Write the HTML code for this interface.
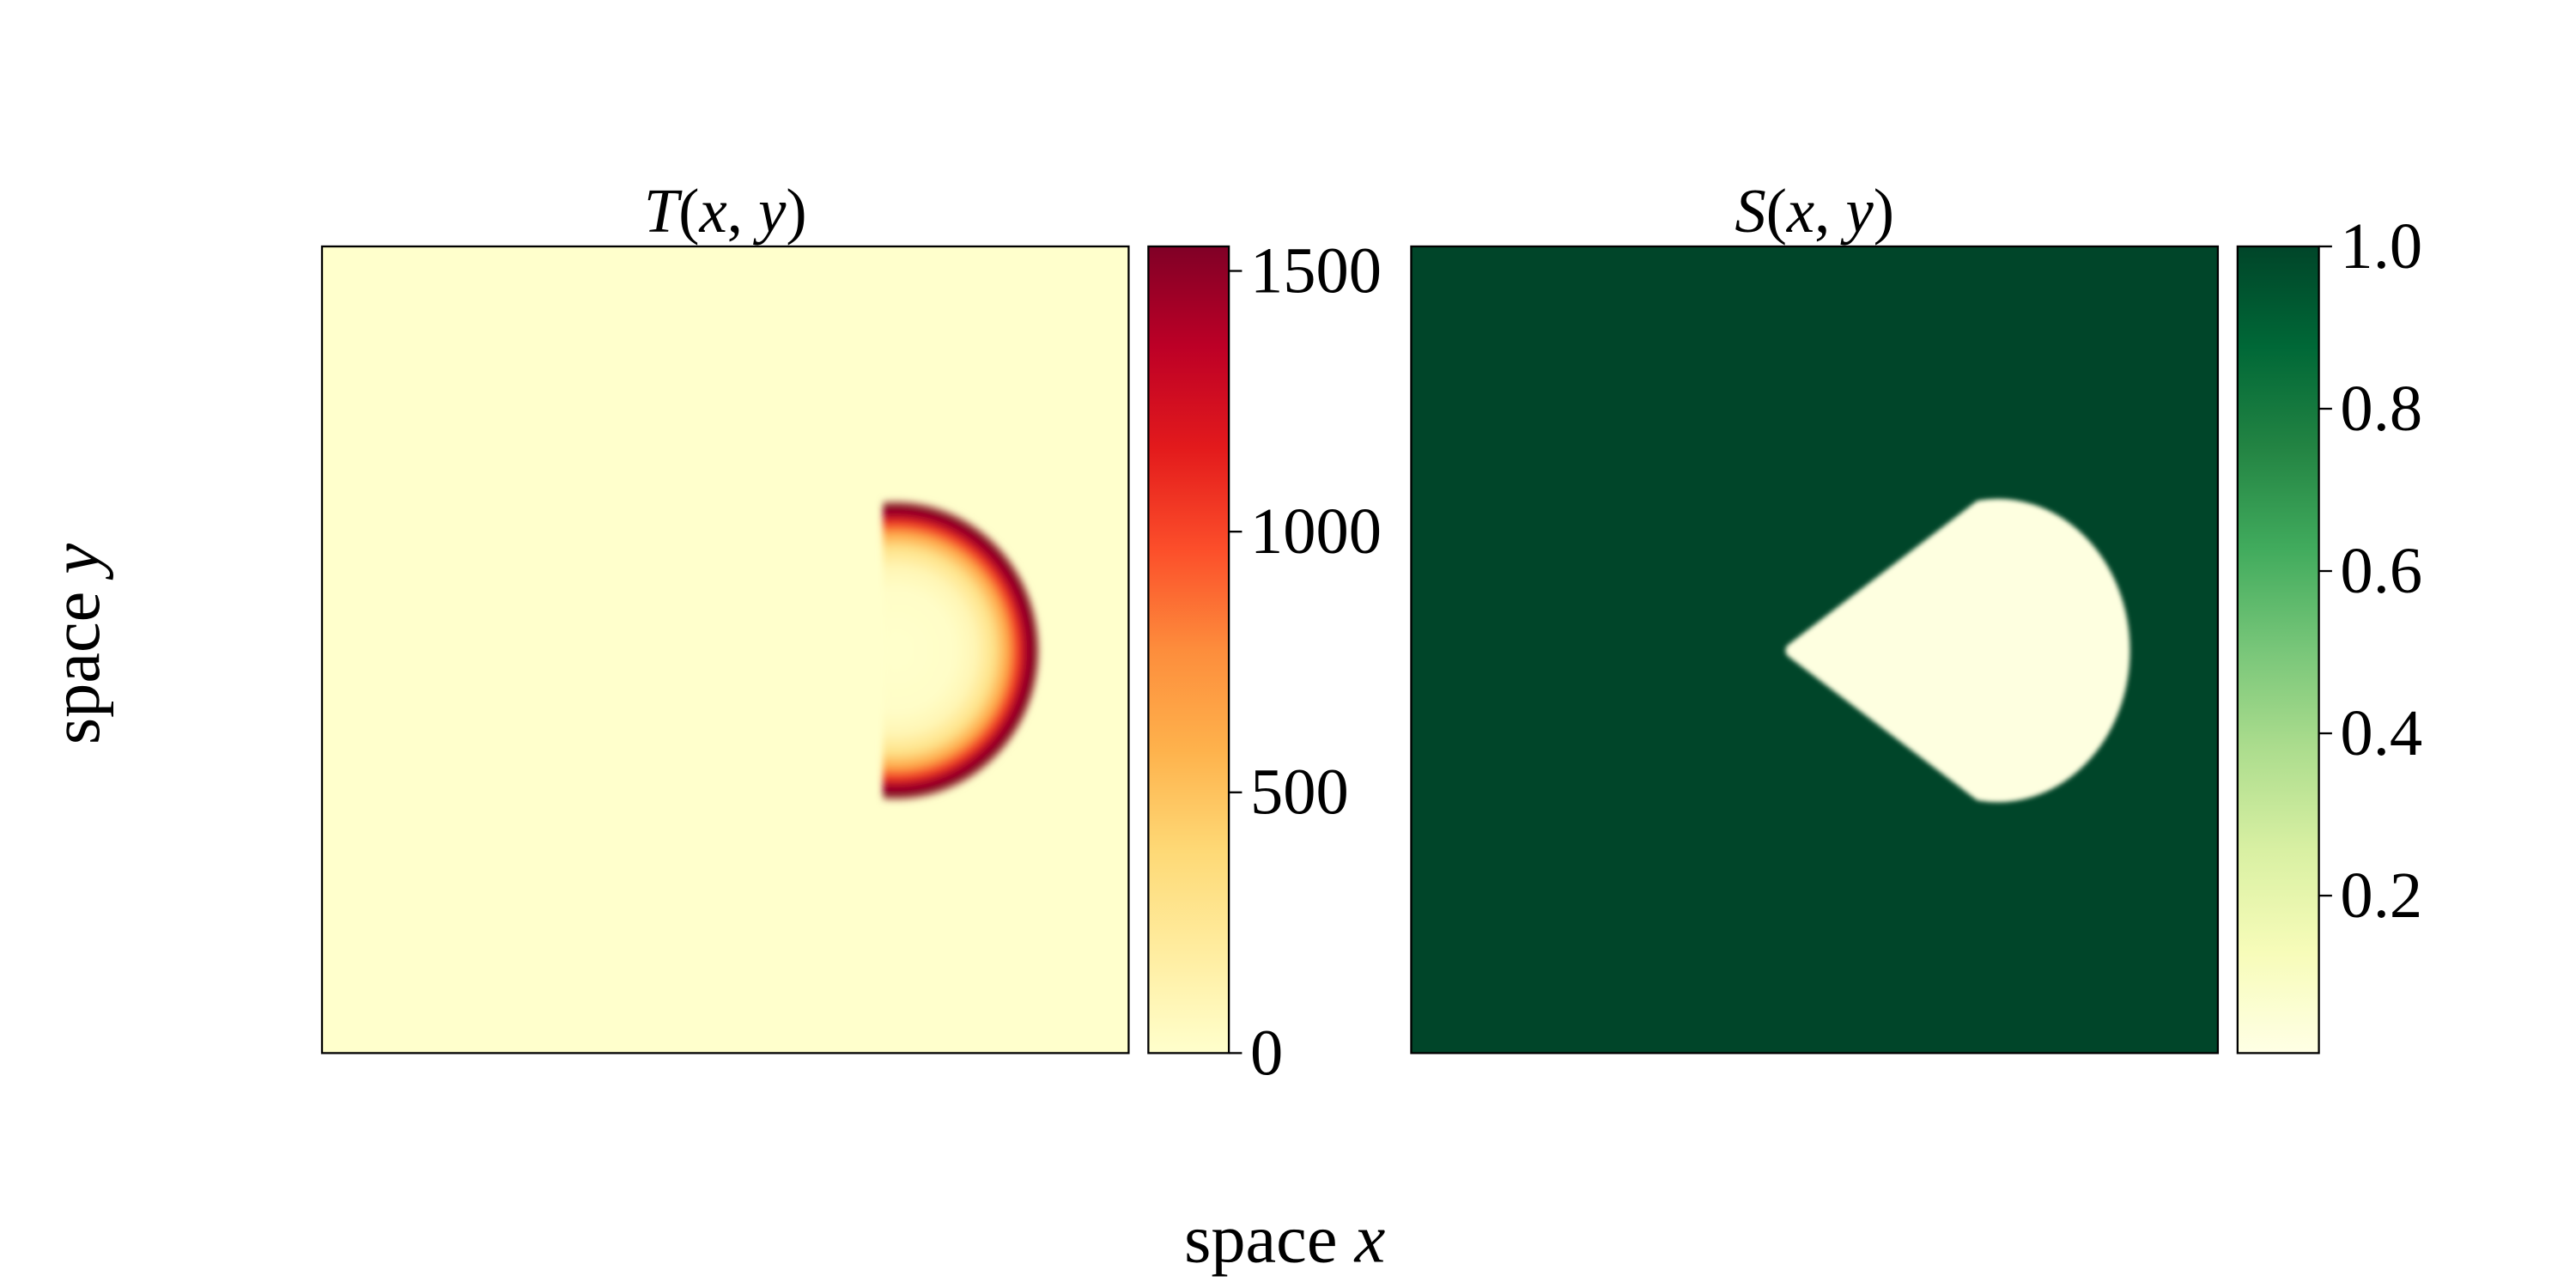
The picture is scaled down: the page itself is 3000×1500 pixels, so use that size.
<!DOCTYPE html>
<html><head><meta charset="utf-8"><style>
html,body{margin:0;padding:0;background:#fff;}
svg{display:block;}
text{font-family:"Liberation Serif","DejaVu Serif",serif;fill:#000;}
</style></head><body>
<svg id="fig" width="3000" height="1500" viewBox="0 0 1568 784" xmlns="http://www.w3.org/2000/svg">
<defs id="defs"></defs>
</svg>
<script>
const tTicks=[0,500,1000,1500];
const tTickLabels=["0","500","1000","1500"];
const tRange=[0,1547];
const sTicks=[0.2,0.4,0.6,0.8,1.0];
const sTickLabels=["0.2","0.4","0.6","0.8","1.0"];
const sRange=[0.006,1.0];
const ylorrd=["#ffffcc","#ffeda0","#fed976","#feb24c","#fd8d3c","#fc4e2a","#e31a1c","#bd0026","#800026"];
const ylgn=["#ffffe5","#f7fcb9","#d9f0a3","#addd8e","#78c679","#41ab5d","#238443","#006837","#004529"];
// temperature field
const tBackground=0;
const frontCenterT=[0.711,0.499];
const frontRadiusT=[0.179,0.186];
const frontOffsets=[0,0.4,0.55,0.68,0.78,0.85,0.9,0.95,0.985,1.0];
const frontTemps=[0,20,100,300,650,1050,1400,1540,1450,0];
// solid field
const sBackground=1.0;
const sBurned=0.02;
const burnCenter=[0.727,0.499];
const burnRadius=[0.163,0.187];
const burnTip=[0.463,0.499];
const burnCornerAngle=98;

const NS="http://www.w3.org/2000/svg";
const svg=document.getElementById('fig');
const defs=document.getElementById('defs');
function mk(tag,attrs,parent){const e=document.createElementNS(NS,tag);for(const k in attrs)e.setAttribute(k,attrs[k]);(parent||svg).appendChild(e);return e;}
function hex2rgb(h){return [parseInt(h.slice(1,3),16),parseInt(h.slice(3,5),16),parseInt(h.slice(5,7),16)];}
function cmap(stops,t){t=Math.max(0,Math.min(1,t));const n=stops.length-1;const f=t*n;const i=Math.min(n-1,Math.floor(f));const u=f-i;const a=hex2rgb(stops[i]),b=hex2rgb(stops[i+1]);return 'rgb('+a.map((v,k)=>Math.round(v+(b[k]-v)*u)).join(',')+')';}
function norm(range,v){return (v-range[0])/(range[1]-range[0]);}

const PW=491, PT=150, PB=641;
const panels={T:{x0:196},S:{x0:859}};
function sx(p,v){return panels[p].x0+v*PW;}
function sy(v){return PB-v*PW;}
const cbT={x0:699,x1:748}, cbS={x0:1362,x1:1411.5};
function cbY(range,v){return PB-norm(range,v)*(PB-PT);}

// ---- T panel ----
let r=mk('rect',{x:sx('T',0),y:PT,width:PW,height:PW,fill:cmap(ylorrd,norm(tRange,tBackground))});


const tcx=sx('T',frontCenterT[0]), tcy=sy(frontCenterT[1]);
const tRy=frontRadiusT[1]*PW, tRx=frontRadiusT[0]*PW;
const rg=mk('radialGradient',{id:'frontGrad',gradientUnits:'userSpaceOnUse',cx:0,cy:0,r:tRy},defs);
frontOffsets.forEach((o,i)=>{mk('stop',{offset:o,'stop-color':cmap(ylorrd,norm(tRange,frontTemps[i]))},rg);});
const cp=mk('clipPath',{id:'halfClip'},defs);
mk('rect',{x:-8,y:-tRy-10,width:tRy+20,height:2*tRy+20},cp);
const bf=mk('filter',{id:'soft',x:'-10%',y:'-10%',width:'120%',height:'120%'},defs);
mk('feGaussianBlur',{stdDeviation:1.4},bf);
const bf2=mk('filter',{id:'soft2',x:'-10%',y:'-10%',width:'120%',height:'120%'},defs);
mk('feGaussianBlur',{stdDeviation:2.2},bf2);
let g=mk('g',{transform:'translate('+tcx+','+tcy+') scale('+(tRx/tRy)+',1)',filter:'url(#soft2)'});
let g2=mk('g',{'clip-path':'url(#halfClip)'},g);
let c=mk('circle',{cx:0,cy:0,r:tRy,fill:'url(#frontGrad)'},g2);


r=mk('rect',{x:sx('T',0),y:PT,width:PW,height:PW,fill:'none',stroke:'#000','stroke-width':1.2});


let t=mk('text',{x:sx('T',0.5),y:141,'font-size':38,'text-anchor':'middle'});
t.innerHTML='<tspan font-style="italic">T</tspan>(<tspan font-style="italic">x</tspan>, <tspan font-style="italic">y</tspan>)';



// ---- S panel ----
r=mk('rect',{x:sx('S',0),y:PT,width:PW,height:PW,fill:cmap(ylgn,norm(sRange,sBackground))});


(function(){
 const cx=sx('S',burnCenter[0]), cy=sy(burnCenter[1]);
 const Rx=burnRadius[0]*PW-4, Ry=burnRadius[1]*PW-4;
 const a=burnCornerAngle*Math.PI/180;
 const tx=sx('S',burnTip[0])+5, ty=sy(burnTip[1]);
 const ux=cx+Rx*Math.cos(a), uy=cy-Ry*Math.sin(a);
 const lx=ux, ly=cy+Ry*Math.sin(a);
 const d='M'+tx+','+ty+' L'+ux+','+uy+' A'+Rx+','+Ry+' 0 1 1 '+lx+','+ly+' Z';
 const col=cmap(ylgn,norm(sRange,sBurned));
 const p=mk('path',{d:d,fill:col,stroke:col,'stroke-width':9,'stroke-linejoin':'round',filter:'url(#soft)'});
 
 
})();
r=mk('rect',{x:sx('S',0),y:PT,width:PW,height:PW,fill:'none',stroke:'#000','stroke-width':1.2});


t=mk('text',{x:sx('S',0.5),y:141,'font-size':38,'text-anchor':'middle'});
t.innerHTML='<tspan font-style="italic">S</tspan>(<tspan font-style="italic">x</tspan>, <tspan font-style="italic">y</tspan>)';



// ---- colorbars ----
function colorbar(id,cb,stops,range,ticks,labels,name){
 const lg=mk('linearGradient',{id:id,x1:0,y1:1,x2:0,y2:0},defs);
 stops.forEach((s,i)=>mk('stop',{offset:i/(stops.length-1),'stop-color':s},lg));
 const bar=mk('rect',{x:cb.x0,y:PT,width:cb.x1-cb.x0,height:PB-PT,fill:'url(#'+id+')',stroke:'#000','stroke-width':1.2});
 
 
 ticks.forEach((v,i)=>{
  const y=cbY(range,v);
  const l=mk('line',{x1:cb.x1,x2:cb.x1+8,y1:y,y2:y,stroke:'#000','stroke-width':1.2});
  
  
  const tx=mk('text',{x:cb.x1+13,y:y+13,'font-size':40});
  tx.textContent=labels[i];
  
  
 });
}
colorbar('gT',cbT,ylorrd,tRange,tTicks,tTickLabels,'temperature');
colorbar('gS',cbS,ylgn,sRange,sTicks,sTickLabels,'solid');

// ---- axis labels ----
t=mk('text',{x:782,y:768,'font-size':42,'text-anchor':'middle'});
t.innerHTML='space <tspan font-style="italic">x</tspan>';


t=mk('text',{x:0,y:0,'font-size':42,'text-anchor':'middle',transform:'translate(60,392) rotate(-90)'});
t.innerHTML='space <tspan font-style="italic">y</tspan>';


</script>
</body></html>
